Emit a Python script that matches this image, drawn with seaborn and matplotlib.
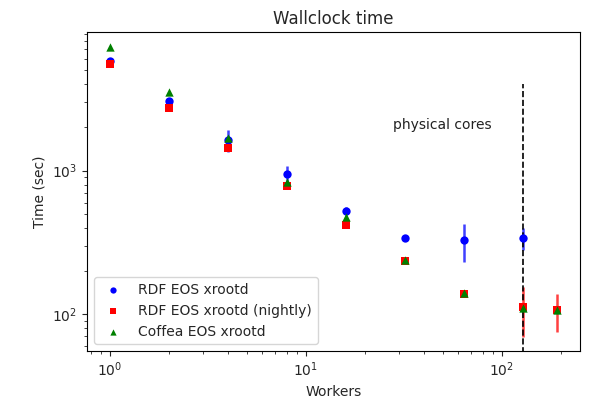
import numpy as np
import pandas as pd
import matplotlib
matplotlib.use("Agg")
import matplotlib.pyplot as plt
import seaborn as sns

# Data
workers_rdf = [1, 2, 4, 8, 16, 32, 64, 128]
time_rdf = [5840, 3055, 1636, 944, 523, 341, 327, 341]
err_rdf = [120, 110, 280, 140, 35, 18, 97, 60]

workers_nightly = [1, 2, 4, 8, 16, 32, 64, 128, 192]
time_nightly = [5510, 2720, 1439, 782, 421, 235, 138, 112, 107]
err_nightly = [60, 40, 30, 15, 8, 6, 5, 43, 32]

workers_coffea = [1, 2, 4, 8, 16, 32, 64, 128, 192]
time_coffea = [7220, 3515, 1683, 838, 479, 237, 141, 111, 107]
err_coffea = [0, 0, 0, 0, 0, 0, 0, 0, 0]

labels = ["RDF EOS xrootd", "RDF EOS xrootd (nightly)", "Coffea EOS xrootd"]
colors = ["blue", "red", "green"]
markers = ["o", "s", "^"]
physical_cores = 128

sns.set_style("ticks")
plt.rcParams.update({"axes.edgecolor": "black", "axes.linewidth": 0.8})

fig = plt.figure(figsize=(6.08, 4.04), dpi=100)
ax = fig.add_axes([87/608, 1-351/404, (580-87)/608, (351-32)/404])

series = [
    (workers_rdf, time_rdf, err_rdf),
    (workers_nightly, time_nightly, err_nightly),
    (workers_coffea, time_coffea, err_coffea),
]
for (x, y, e), lab, c, m in zip(series, labels, colors, markers):
    df = pd.DataFrame({"Workers": x, "Time": y, "err": e})
    ax.errorbar(df["Workers"], df["Time"], yerr=df["err"], fmt="none",
                ecolor=c, elinewidth=1.8, alpha=0.75, zorder=2)
    sns.scatterplot(data=df, x="Workers", y="Time", ax=ax, color=c, marker=m,
                    s=36, edgecolor=c, linewidth=0, label=lab, zorder=3)

ax.set_xscale("log")
ax.set_yscale("log")
ax.set_xlim(10**(-0.1165), 10**2.399)
ax.set_ylim(10**1.744, 10**3.966)

ax.vlines(physical_cores, 40, 4000, colors="black", linestyles="dashed", linewidth=1.2)
ax.text(27.7, 1940, "physical cores", fontsize=10, color="#222222")

ax.set_title("Wallclock time", fontsize=12)
ax.set_xlabel("Workers", fontsize=10)
ax.set_ylabel("Time (sec)", fontsize=10)
ax.tick_params(labelsize=10)

leg = ax.legend(loc="lower left", fontsize=10, markerscale=0.75, frameon=True)
leg.get_frame().set_edgecolor("#cccccc")

fig.savefig("out.png", dpi=100)
